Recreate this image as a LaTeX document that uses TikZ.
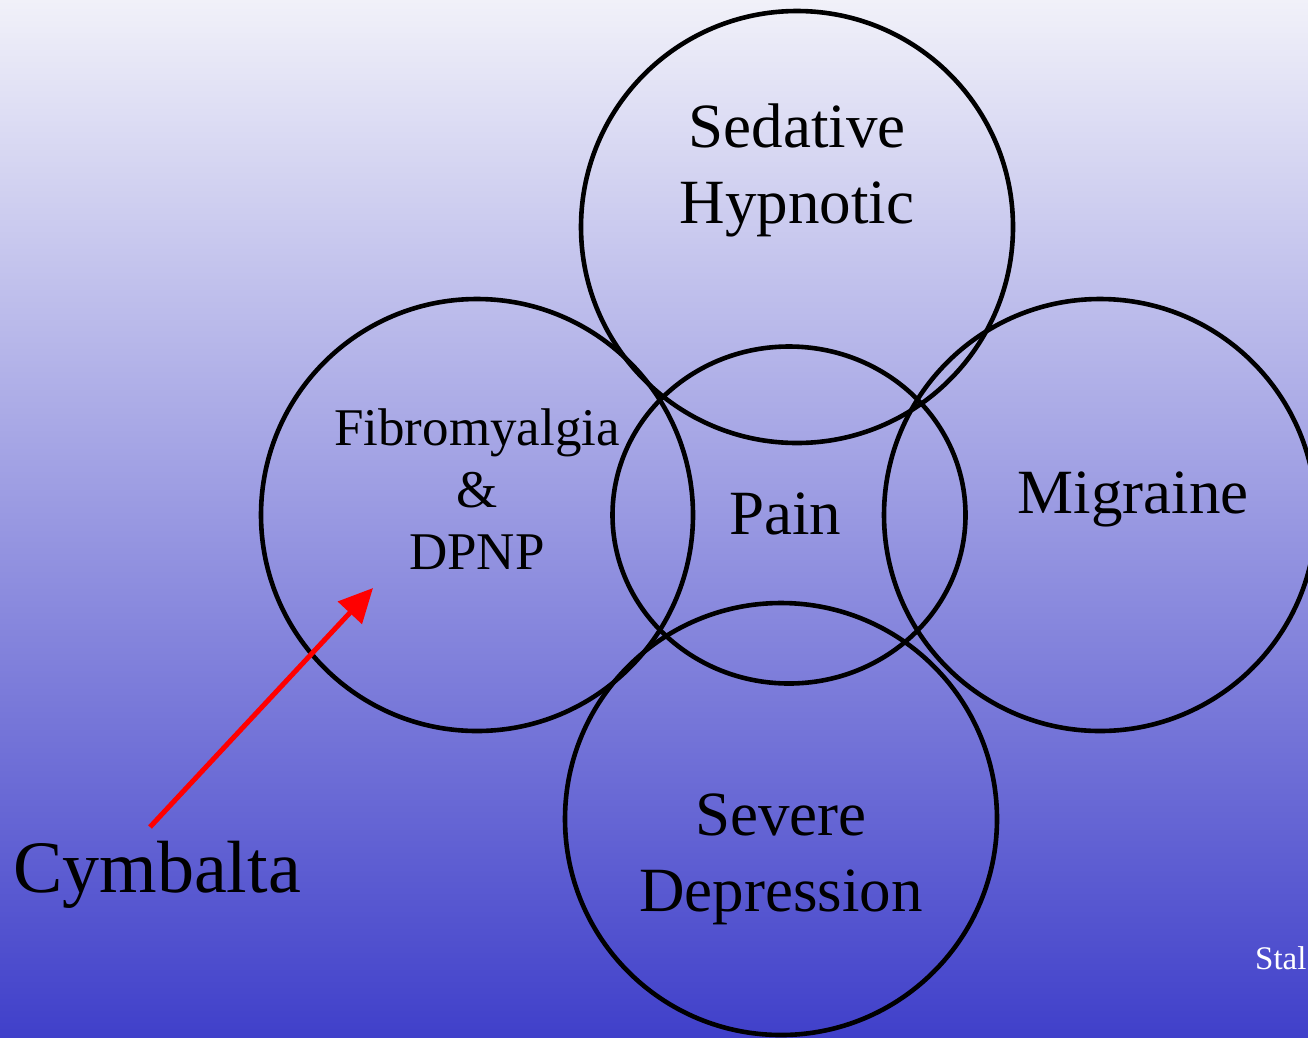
\documentclass[tikz,border=0pt]{standalone}
\usepackage{fontspec}
\setmainfont{Liberation Serif}
\usepackage{xcolor}
\usepackage{tikz}
\usetikzlibrary{positioning,shapes,arrows.meta,calc}

\definecolor{bgtop}{RGB}{241,241,249}
\definecolor{bgbottom}{RGB}{64,64,202}

\tikzset{
    ring/.style={draw=black, line width=4.6pt, circle, inner sep=0pt, minimum size=#1},
    lbl/.style={align=center, font=\fontsize{63}{76}\selectfont, inner sep=0pt},
}

\begin{document}
\begin{tikzpicture}[x=1pt, y=-1pt]
    \useasboundingbox (0,0) rectangle (1308,1037);
    \begin{scope}
    \clip (0,0) rectangle (1308,1037);
    \shade[top color=bgtop, bottom color=bgbottom] (0,0) rectangle (1308,1037);

    % the five rings
    \node[ring=432pt] (sedative) at (797,227) {};
    \node[ring=432pt] (fibro) at (477,515) {};
    \node[ring=432pt] (migraine) at (1100,515) {};
    \node[ring=432pt] (depression) at (781,819) {};
    \node[draw=black, line width=4.6pt, ellipse, inner sep=0pt,
          minimum width=353pt, minimum height=337pt] (pain) at (789,515) {};

    % labels
    \node[lbl] (sedtext) at (797,170) {Sedative\\Hypnotic};
    \node[lbl, font=\fontsize{53}{62}\selectfont] (fibrotext) at (477,489) {Fibromyalgia\\\&\\DPNP};
    \node[lbl] (paintext) at (785,514) {Pain};
    \node[lbl] (migtext) at (1133,499) {Migraine};
    \node[lbl] (deptext) at (781,859) {Severe\\Depression};
    \node[lbl, font=\fontsize{74}{88}\selectfont, anchor=west] (cymbalta) at (13,875) {Cymbalta};
    \node[font=\fontsize{33}{40}\selectfont, text=white, anchor=west, inner sep=0pt] (source) at (1255,958) {Stal};

    % arrow to the fibromyalgia ring
    \coordinate (arrstart) at (150,827);
    \coordinate (arrend) at (373,588);
    \draw[red, line width=5pt, -{Triangle[length=34pt,width=32pt]}] (arrstart) -- (arrend);
    \end{scope}
\end{tikzpicture}
\end{document}
